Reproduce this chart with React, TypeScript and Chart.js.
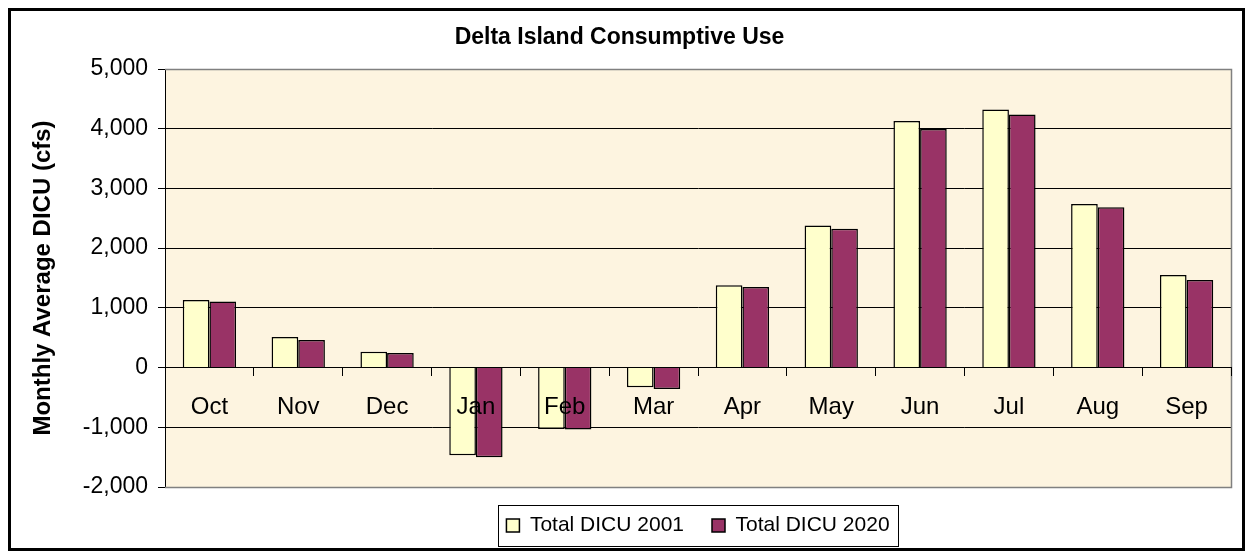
import React, { useEffect, useRef } from 'react';
import { Chart, registerables } from 'chart.js';

Chart.register(...registerables);

const chartTitle = 'Delta Island Consumptive Use';
const yAxisTitle = 'Monthly Average DICU (cfs)';
const months = ['Oct', 'Nov', 'Dec', 'Jan', 'Feb', 'Mar', 'Apr', 'May', 'Jun', 'Jul', 'Aug', 'Sep'];
const seriesNames = ['Total DICU 2001', 'Total DICU 2020'];
const dicu2001 = [1130, 510, 265, -1470, -1030, -330, 1380, 2380, 4130, 4320, 2740, 1550];
const dicu2020 = [1105, 460, 243, -1500, -1035, -360, 1350, 2325, 3995, 4240, 2685, 1465];
const yMin = -2000;
const yMax = 5000;
const yStep = 1000;

const FONT = "'Liberation Sans', Arial, sans-serif";
const PLOT_BG = 'rgb(253, 244, 224)';
const W = 1237;
const H = 543;

const decorPlugin = {
  id: 'decor',
  beforeDraw(chart: any) {
    const { ctx, chartArea: a } = chart;
    ctx.save();
    ctx.fillStyle = '#ffffff';
    ctx.fillRect(0, 0, chart.width, chart.height);
    ctx.fillStyle = PLOT_BG;
    ctx.fillRect(a.left, a.top, a.right - a.left, a.bottom - a.top);
    ctx.restore();
  },
  beforeDatasetsDraw(chart: any) {
    const { ctx, chartArea: a } = chart;
    ctx.save();
    ctx.strokeStyle = '#808080';
    ctx.lineWidth = 1.5;
    ctx.beginPath();
    ctx.moveTo(a.left, Math.round(a.top) + 0.5);
    ctx.lineTo(Math.round(a.right) + 0.5, Math.round(a.top) + 0.5);
    ctx.lineTo(Math.round(a.right) + 0.5, Math.round(a.bottom) + 0.5);
    ctx.lineTo(a.left, Math.round(a.bottom) + 0.5);
    ctx.stroke();
    ctx.restore();
  },
  afterDraw(chart: any) {
    const { ctx } = chart;
    const hb = chart.legend && chart.legend.legendHitBoxes;
    ctx.save();
    if (hb && hb.length) {
      const first = hb[0];
      const last = hb[hb.length - 1];
      const left = Math.round(first.left - 8) + 0.5;
      const right = Math.round(last.left + last.width + 8) + 0.5;
      const top = Math.round(first.top - 10) + 0.5;
      const bottom = Math.round(first.top + first.height + 10) + 0.5;
      ctx.strokeStyle = '#000';
      ctx.lineWidth = 1;
      ctx.strokeRect(left, top, right - left, bottom - top);
    }
    ctx.strokeStyle = '#000';
    ctx.lineWidth = 3;
    ctx.strokeRect(1.5, 1.5, chart.width - 3, chart.height - 3);
    ctx.restore();
  },
};

export default function App() {
  const ref = useRef<HTMLCanvasElement | null>(null);

  useEffect(() => {
    if (!ref.current) return;
    Chart.defaults.font.family = FONT;
    Chart.defaults.color = '#000';
    const chart = new Chart(ref.current, {
      type: 'bar',
      data: {
        labels: months,
        datasets: [
          {
            label: seriesNames[0],
            data: dicu2001,
            backgroundColor: '#FFFFCC',
            borderColor: '#000000',
            borderWidth: 1.5,
            categoryPercentage: 0.6,
            barPercentage: 1.0,
          },
          {
            label: seriesNames[1],
            data: dicu2020,
            backgroundColor: '#993366',
            borderColor: '#000000',
            borderWidth: 1.5,
            categoryPercentage: 0.6,
            barPercentage: 1.0,
          },
        ],
      },
      options: {
        responsive: false,
        animation: false,
        devicePixelRatio: 1,
        layout: { padding: { left: 0, right: 14, top: 0, bottom: 5 } },
        plugins: {
          title: {
            display: true,
            text: chartTitle,
            color: '#000',
            font: { size: 23, weight: 'bold', family: FONT },
            padding: { top: 16, bottom: 17.4 },
          },
          legend: {
            display: true,
            position: 'bottom',
            fullSize: false,
            labels: {
              color: '#000',
              font: { size: 21, family: FONT },
              boxWidth: 13,
              boxHeight: 13,
              padding: 28,
            },
          },
          tooltip: { enabled: false },
        },
        scales: {
          x: {
            type: 'category',
            position: { y: 0 },
            offset: true,
            grid: {
              display: true,
              drawOnChartArea: false,
              drawTicks: true,
              tickLength: 8,
              color: '#000',
              offset: true,
              z: 1,
            },
            border: { display: true, color: '#000', width: 1, z: 1 },
            ticks: {
              color: '#000',
              font: { size: 24, family: FONT },
              padding: 17,
              maxRotation: 0,
              autoSkip: false,
              z: 2,
            },
          },
          y: {
            min: yMin,
            max: yMax,
            afterFit: (scale: any) => {
              scale.width = 157;
            },
            grid: {
              color: (c: any) =>
                c.tick && (c.tick.value === yMax || c.tick.value === yMin) ? '#808080' : '#000',
              tickColor: '#000',
              tickLength: 7,
              lineWidth: 1,
            },
            border: { display: true, color: '#000', width: 1 },
            ticks: {
              stepSize: yStep,
              color: '#000',
              font: { size: 23, family: FONT },
              padding: 10,
              callback: (v: any) => Number(v).toLocaleString('en-US'),
            },
            title: {
              display: true,
              text: yAxisTitle,
              color: '#000',
              font: { size: 24, weight: 'bold', family: FONT },
              padding: { top: 21, bottom: 0 },
            },
          },
        },
      },
      plugins: [decorPlugin],
    });
    return () => chart.destroy();
  }, []);

  return (
    <div style={{ width: W, height: H }}>
      <canvas ref={ref} width={W} height={H} style={{ display: 'block' }} />
    </div>
  );
}
